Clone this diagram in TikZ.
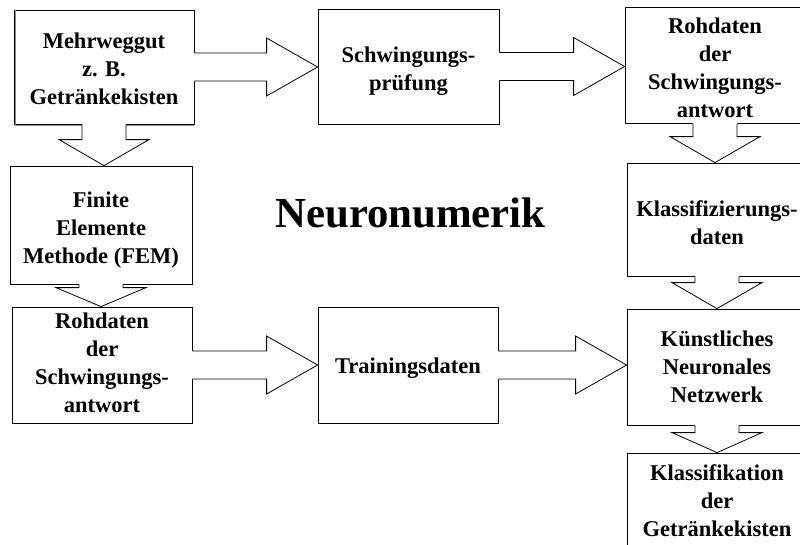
\documentclass[tikz,border=0pt]{standalone}
\usepackage{fontspec}
\setmainfont{Liberation Serif}
\usetikzlibrary{calc}
\tikzset{
  boxnode/.style={draw=black, line width=0.8pt, fill=white, align=center, inner sep=2pt,
    font=\bfseries\fontsize{22.5}{28}\selectfont},
  blkline/.style={draw=black, line width=0.8pt, line join=miter},
  titletext/.style={font=\bfseries\fontsize{42.8}{50}\selectfont, inner sep=0pt}
}
\newcommand\lowtxt[2][4pt]{\raisebox{-#1}[\height][\depth]{\begin{tabular}{@{}c@{}}#2\end{tabular}}}
% horizontal block arrow: source east -> target west
\newcommand\blockright[2]{%
  \fill[white] let \p1=(#1.east), \p2=(#2.west) in
    (\x1-1pt,\y1+14pt) -- (\x2-51pt,\y1+14pt) -- (\x2-51pt,\y1+29pt) -- (\x2,\y1)
    -- (\x2-51pt,\y1-29pt) -- (\x2-51pt,\y1-14pt) -- (\x1-1pt,\y1-14pt) -- cycle;
  \draw[blkline] let \p1=(#1.east), \p2=(#2.west) in
    (\x1,\y1+14pt) -- (\x2-51pt,\y1+14pt) -- (\x2-51pt,\y1+29pt) -- (\x2,\y1)
    -- (\x2-51pt,\y1-29pt) -- (\x2-51pt,\y1-14pt) -- (\x1,\y1-14pt);
}
% vertical block arrow: source south -> target north, #3 = head length
\newcommand\blockdown[3]{%
  \fill[white] let \p1=(#1.south), \p2=(#2.north) in
    (\x1-22pt,\y1+1pt) -- (\x1-22pt,\y2+#3pt) -- (\x1-45pt,\y2+#3pt) -- (\x1,\y2)
    -- (\x1+45pt,\y2+#3pt) -- (\x1+22pt,\y2+#3pt) -- (\x1+22pt,\y1+1pt) -- cycle;
  \draw[blkline] let \p1=(#1.south), \p2=(#2.north) in
    (\x1-22pt,\y1) -- (\x1-22pt,\y2+#3pt) -- (\x1-45pt,\y2+#3pt) -- (\x1,\y2)
    -- (\x1+45pt,\y2+#3pt) -- (\x1+22pt,\y2+#3pt) -- (\x1+22pt,\y1);
}
\begin{document}
\begin{tikzpicture}[x=1pt, y=-1pt]
\useasboundingbox (0,0) rectangle (800,544);
\clip (0,0) rectangle (800,544);
\fill[white] (0,0) rectangle (800,544);

% boxes
\node[boxnode, minimum width=180pt, minimum height=114pt] (A) at (104,67)
  {\lowtxt{Mehrweggut\\z. B.\\Getränkekisten}};
\node[boxnode, minimum width=181pt, minimum height=115pt] (B) at (408.5,66.5)
  {\lowtxt{Schwingungs-\\prüfung}};
\node[boxnode, minimum width=180pt, minimum height=113pt] (C) at (715,65.5)
  {\lowtxt{Rohdaten\\der\\Schwingungs-\\antwort}};
\node[boxnode, minimum width=182pt, minimum height=118pt] (D) at (101,225)
  {\lowtxt[5pt]{Finite\\Elemente\\Methode (FEM)}};
\node[boxnode, minimum width=180pt, minimum height=113pt] (E) at (717,219.5)
  {\lowtxt[5pt]{Klassifizierungs-\\daten}};
\node[boxnode, minimum width=180pt, minimum height=116pt] (F) at (102,365)
  {\lowtxt[0pt]{Rohdaten\\der\\Schwingungs-\\antwort}};
\node[boxnode, minimum width=180pt, minimum height=116pt] (G) at (408,365)
  {\lowtxt[3pt]{Trainingsdaten}};
\node[boxnode, minimum width=180pt, minimum height=116pt] (H) at (717,367)
  {\lowtxt[2pt]{Künstliches\\Neuronales\\Netzwerk}};
\node[boxnode, minimum width=180pt, minimum height=100pt] (I) at (717,503)
  {\lowtxt[0pt]{Klassifikation\\der\\Getränkekisten}};

% shadow on first box
\draw[black!45, line width=1pt] ($(A.north west)+(1.4,0.5)$) -- ($(A.south west)+(1.4,1.4)$) -- ($(A.south east)+(0,1.4)$);

% title
\node[titletext, anchor=base] (T) at (410.5,227) {Neuronumerik};

% block arrows
\blockright{A}{B}
\blockright{B}{C}
\blockright{F}{G}
\blockright{G}{H}
\blockdown{A}{D}{26}
\blockdown{D}{F}{19}
\blockdown{C}{E}{26}
\blockdown{E}{H}{26}
\blockdown{H}{I}{20}
\end{tikzpicture}
\end{document}
